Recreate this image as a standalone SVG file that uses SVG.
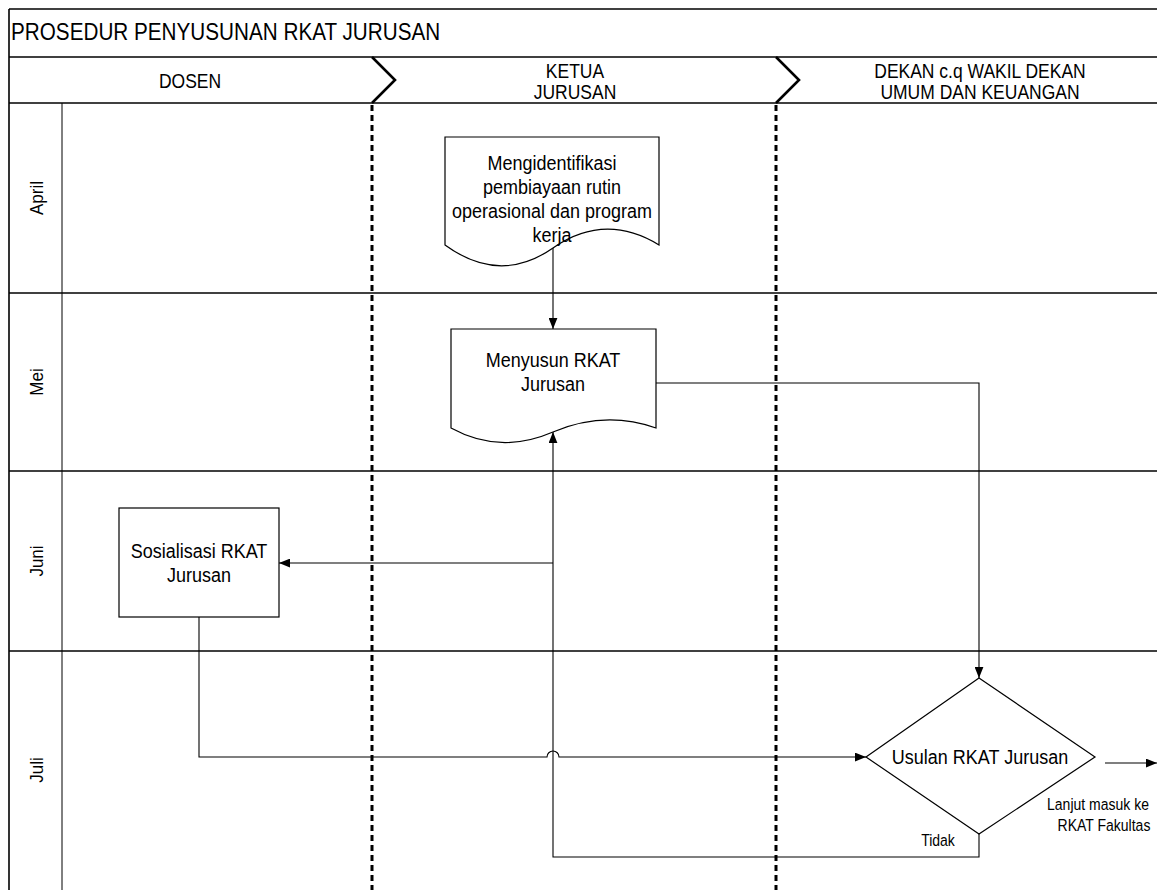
<svg xmlns="http://www.w3.org/2000/svg" width="1157" height="890" viewBox="0 0 1157 890">
<style>
text{font-family:"Liberation Sans",Arial,sans-serif;fill:#000;transform-box:fill-box;transform-origin:center;transform:scaleY(1.12)}
.title{font-size:20.7px}
.hdr{font-size:17.5px;text-anchor:middle}
.mon{font-size:17px;text-anchor:middle}
.node{font-size:18px;text-anchor:middle}
.lbl{font-size:14px;text-anchor:middle}
.frame{stroke:#000;stroke-width:1.6;fill:none}
.thin{stroke:#000;stroke-width:1;fill:none}
.lane{stroke:#000;stroke-width:3;stroke-dasharray:6 4;fill:none}
.chev{stroke:#000;stroke-width:2.6;fill:none}
.shape{stroke:#000;stroke-width:1.2;fill:#fff}
.conn{stroke:#000;stroke-width:1.1;fill:none;marker-end:url(#arr)}
</style>
<defs>
<marker id="arr" viewBox="0 0 10 8" refX="10" refY="4" markerWidth="11" markerHeight="9" markerUnits="userSpaceOnUse" orient="auto">
<path d="M0,0 L10,4 L0,8 Z" fill="#000"/>
</marker>
</defs>
<rect width="1157" height="890" fill="#fff"/>
<g id="frame">
<line class="frame" x1="9" y1="9" x2="1157" y2="9"/>
<line class="frame" x1="9" y1="9" x2="9" y2="890"/>
<line class="frame" x1="9" y1="57" x2="1157" y2="57"/>
<line class="frame" x1="9" y1="103" x2="1157" y2="103"/>
<line class="frame" x1="9" y1="293" x2="1157" y2="293"/>
<line class="frame" x1="9" y1="471" x2="1157" y2="471"/>
<line class="frame" x1="9" y1="651" x2="1157" y2="651"/>
<line class="thin" x1="62" y1="103" x2="62" y2="890"/>
<line class="lane" x1="372" y1="105" x2="372" y2="890"/>
<line class="lane" x1="776" y1="105" x2="776" y2="890"/>
<polyline class="chev" points="372,57 395,80 372,103"/>
<polyline class="chev" points="776,57 799,80 776,103"/>
<text class="title" x="11" y="39">PROSEDUR PENYUSUNAN RKAT JURUSAN</text>
<text class="hdr" x="190" y="87">DOSEN</text>
<text class="hdr" x="575" y="77">KETUA</text>
<text class="hdr" x="575" y="98">JURUSAN</text>
<text class="hdr" x="980" y="77">DEKAN c.q WAKIL DEKAN</text>
<text class="hdr" x="980" y="98">UMUM DAN KEUANGAN</text>
<g transform="translate(42,198) rotate(-90)"><text class="mon" x="0" y="0">April</text></g>
<g transform="translate(42,382) rotate(-90)"><text class="mon" x="0" y="0">Mei</text></g>
<g transform="translate(42,561) rotate(-90)"><text class="mon" x="0" y="0">Juni</text></g>
<g transform="translate(42,770) rotate(-90)"><text class="mon" x="0" y="0">Juli</text></g>
</g>
<g id="connectors">
<path class="conn" d="M553,248 V329"/>
<path class="conn" d="M656,383 H979 V678"/>
<path class="conn" d="M553,563 H279"/>
<path class="conn" d="M199,617 V757 H547 A6,6 0 0 1 559,757 H866"/>
<path class="conn" d="M979,834 V857 H553 V432"/>
<path class="conn" d="M1105,763 H1157"/>
</g>
<g id="node-identifikasi">
<path class="shape" d="M445,137 H659 V245 Q605,212 553,248 Q500,285 445,245 Z"/>
<text class="node" x="552" y="169">Mengidentifikasi</text>
<text class="node" x="552" y="193">pembiayaan rutin</text>
<text class="node" x="552" y="217">operasional dan program</text>
<text class="node" x="552" y="241">kerja</text>
</g>
<g id="node-menyusun">
<path class="shape" d="M451,329 H656 V428 Q605,410 553,432 Q500,455 451,428 Z"/>
<text class="node" x="553" y="366">Menyusun RKAT</text>
<text class="node" x="553" y="390">Jurusan</text>
</g>
<g id="node-sosialisasi">
<rect class="shape" x="119" y="508" width="160" height="109"/>
<text class="node" x="199" y="557">Sosialisasi RKAT</text>
<text class="node" x="199" y="581">Jurusan</text>
</g>
<g id="node-usulan">
<polygon class="shape" points="979,678 1095,757 979,834 866,757"/>
<text class="node" x="980" y="763">Usulan RKAT Jurusan</text>
</g>
<g id="labels">
<text class="lbl" x="938" y="845">Tidak</text>
<text class="lbl" x="1098" y="809">Lanjut masuk ke</text>
<text class="lbl" x="1104" y="830">RKAT Fakultas</text>
</g>
</svg>
